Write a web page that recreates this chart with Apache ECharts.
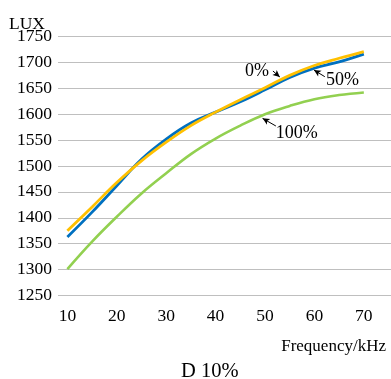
<!DOCTYPE html>
<html>
<head>
<meta charset="utf-8">
<style>
  html, body { margin: 0; padding: 0; background: #fff; }
  #chart { width: 391px; height: 379px; }
</style>
<script src="https://cdn.jsdelivr.net/npm/echarts@6/dist/echarts.min.js"></script>
</head>
<body>
<div id="chart"></div>
<script>
// Illuminance (LUX) against drive frequency for three dimming levels, duty D = 10%
const frequency = [10, 15, 20, 25, 30, 35, 40, 45, 50, 55, 60, 65, 70];
const lux0   = [1375, 1421, 1468, 1510, 1546, 1578, 1604, 1628, 1651, 1675, 1694, 1708, 1721];
const lux50  = [1363, 1411, 1462, 1513, 1552, 1583, 1604, 1624, 1647, 1671, 1689, 1701, 1716];
const lux100 = [1301, 1354, 1402, 1447, 1486, 1523, 1553, 1578, 1600, 1616, 1629, 1637, 1642];
const xTicks = [10, 20, 30, 40, 50, 60, 70];
const yMin = 1250, yMax = 1750, yStep = 50;

const FONT = '"Liberation Serif", "Times New Roman", serif';
const pairs = ys => frequency.map((x, i) => [x, ys[i]]);

const arrowStyle = {
  silent: true,
  symbol: ['none', 'arrow'],
  symbolSize: [5, 7],
  lineStyle: { color: '#000', width: 1, type: 'solid' },
  label: { show: false },
  emphasis: { disabled: true }
};
const tagStyle = {
  symbol: 'circle',
  symbolSize: 0,
  silent: true,
  label: {
    show: true, position: 'inside', color: '#000',
    fontFamily: FONT, fontSize: 18,
    formatter: p => p.name
  }
};

const chart = echarts.init(document.getElementById('chart'), null, { renderer: 'canvas' });
chart.setOption({
  animation: false,
  backgroundColor: '#fff',
  textStyle: { fontFamily: FONT },
  title: [
    { text: 'LUX', left: 4, top: 10, textStyle: { fontFamily: FONT, fontSize: 17.5, fontWeight: 'normal', color: '#000' } },
    { text: 'Frequency/kHz', right: 0, top: 333, textStyle: { fontFamily: FONT, fontSize: 17, fontWeight: 'normal', color: '#000' } },
    { text: 'D 10%', left: 176, top: 356, textStyle: { fontFamily: FONT, fontSize: 20.5, fontWeight: 'normal', color: '#000' } }
  ],
  grid: { left: 58, right: 0, top: 36.5, bottom: 83.5, containLabel: false },
  xAxis: {
    type: 'value',
    min: 8.1,
    max: 75.5,
    axisLine: { show: false },
    axisTick: { show: false },
    splitLine: { show: false },
    axisLabel: {
      customValues: xTicks,
      margin: 12,
      color: '#000',
      fontFamily: FONT,
      fontSize: 17.5,
      formatter: v => String(v)
    }
  },
  yAxis: {
    type: 'value',
    min: yMin,
    max: yMax,
    interval: yStep,
    axisLine: { show: false },
    axisTick: { show: false },
    splitLine: { show: true, lineStyle: { color: '#bfbfbf', width: 1.2 } },
    axisLabel: { margin: 6, color: '#000', fontFamily: FONT, fontSize: 17.5, formatter: v => String(v) }
  },
  series: [
    {
      name: '50%',
      type: 'line',
      data: pairs(lux50),
      smooth: 0.4,
      showSymbol: false,
      lineStyle: { color: '#0070c0', width: 2.8 },
      itemStyle: { color: '#0070c0' },
      z: 2,
      markLine: Object.assign({ data: [[{ coord: [62.1, 1672.4] }, { coord: [59.9, 1685.3] }]] }, arrowStyle),
      markPoint: Object.assign({ data: [{ name: '50%', coord: [65.7, 1666] }] }, tagStyle)
    },
    {
      name: '0%',
      type: 'line',
      data: pairs(lux0),
      smooth: 0.4,
      showSymbol: false,
      lineStyle: { color: '#ffc000', width: 2.8 },
      itemStyle: { color: '#ffc000' },
      z: 3,
      markLine: Object.assign({ data: [[{ coord: [51.6, 1683.4] }, { coord: [53.0, 1671.8] }]] }, arrowStyle),
      markPoint: Object.assign({ data: [{ name: '0%', coord: [48.4, 1683.4] }] }, tagStyle)
    },
    {
      name: '100%',
      type: 'line',
      data: pairs(lux100),
      smooth: 0.4,
      showSymbol: false,
      lineStyle: { color: '#92d050', width: 2.6 },
      itemStyle: { color: '#92d050' },
      z: 2,
      markLine: Object.assign({ data: [[{ coord: [52.2, 1577.2] }, { coord: [49.5, 1592] }]] }, arrowStyle),
      markPoint: Object.assign({ data: [{ name: '100%', coord: [56.4, 1563] }] }, tagStyle)
    }
  ]
});
</script>
</body>
</html>
